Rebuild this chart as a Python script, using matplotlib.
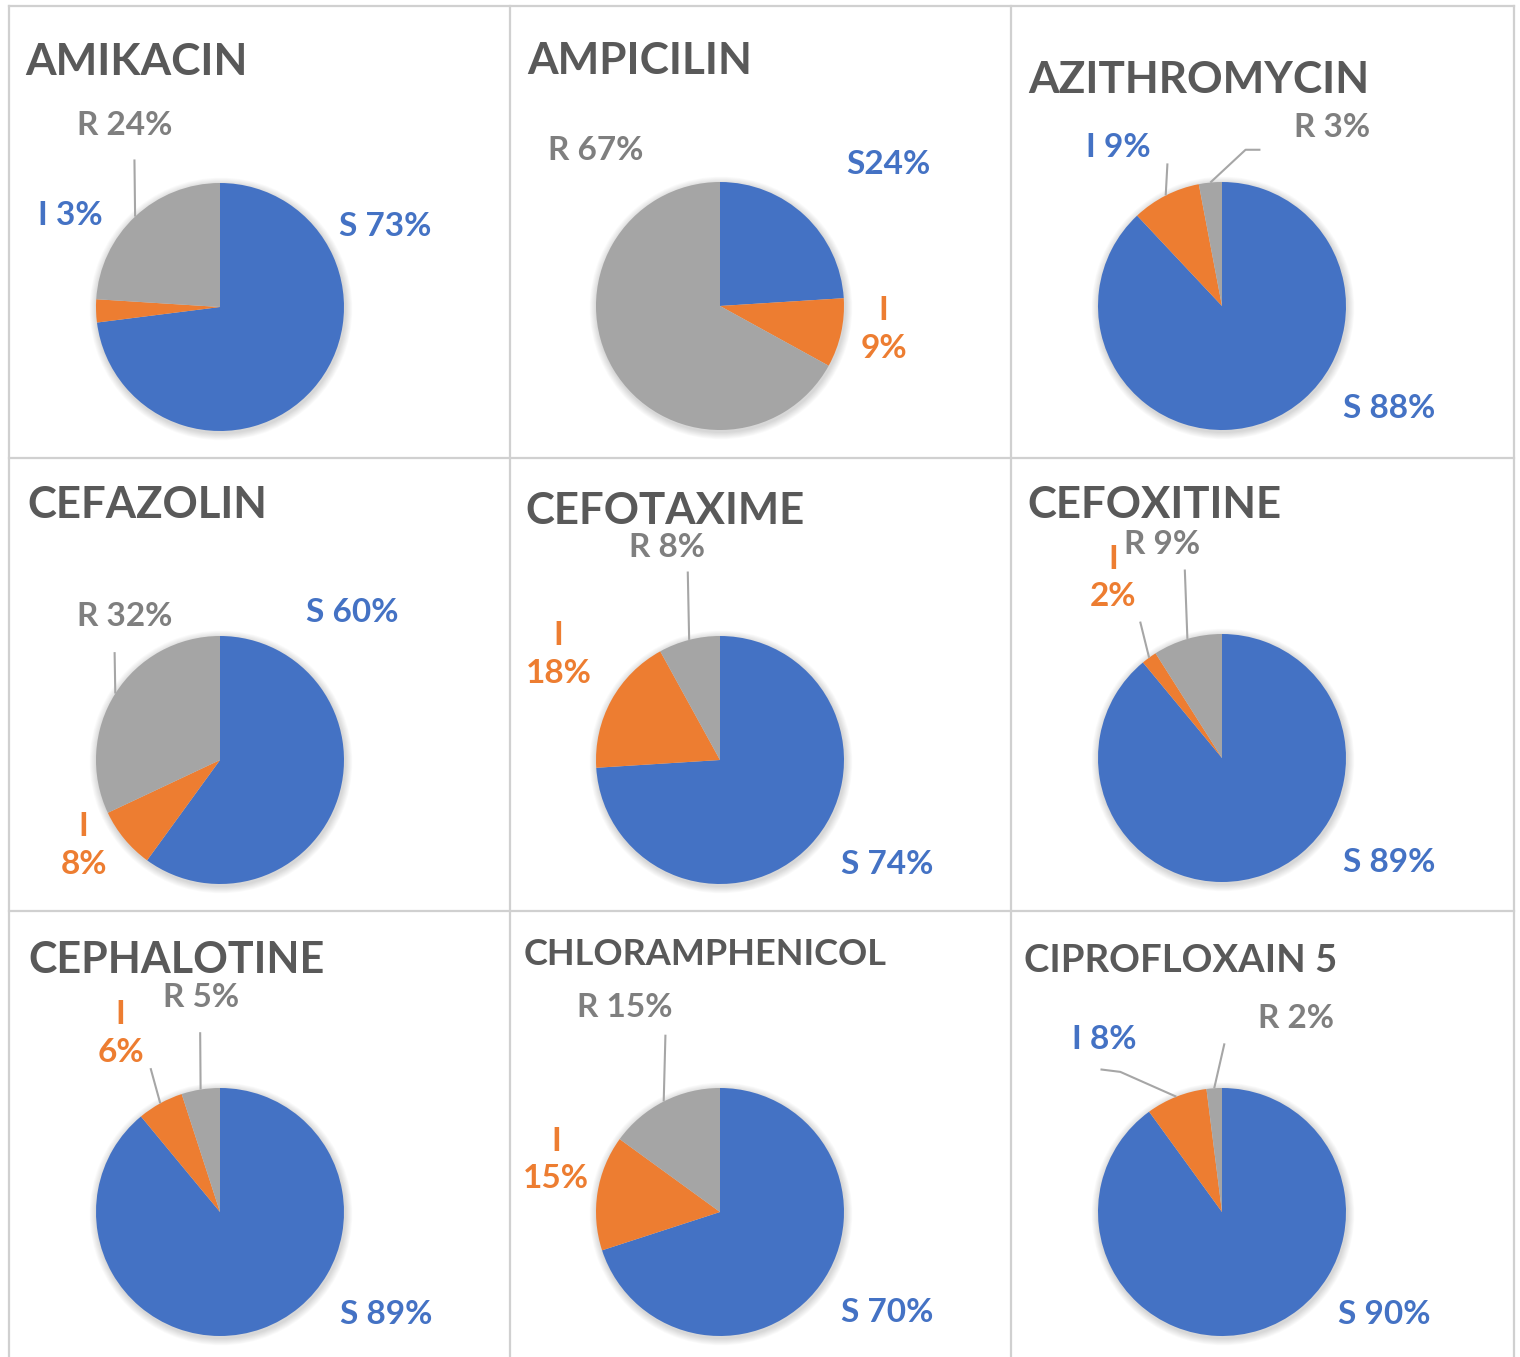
import numpy as np
import matplotlib
matplotlib.use("Agg")
import matplotlib.pyplot as plt
from matplotlib.patches import Circle

W, H = 1520, 1357

drugs = ["AMIKACIN", "AMPICILIN", "AZITHROMYCIN",
         "CEFAZOLIN", "CEFOTAXIME", "CEFOXITINE",
         "CEPHALOTINE", "CHLORAMPHENICOL", "CIPROFLOXAIN 5"]
sens = [73, 24, 88, 60, 74, 89, 89, 70, 90]
inter = [3, 9, 9, 8, 18, 2, 6, 15, 8]
resist = [24, 67, 3, 32, 8, 9, 5, 15, 2]
label_fmt = [
    ["S 73%", "I 3%", "R 24%"],
    ["S24%", "I\n9%", "R 67%"],
    ["S 88%", "I 9%", "R 3%"],
    ["S 60%", "I\n8%", "R 32%"],
    ["S 74%", "I\n18%", "R 8%"],
    ["S 89%", "I\n2%", "R 9%"],
    ["S 89%", "I\n6%", "R 5%"],
    ["S 70%", "I\n15%", "R 15%"],
    ["S 90%", "I 8%", "R 2%"],
]

BLUE, ORANGE, GREY = "#4472C4", "#ED7D31", "#A5A5A5"
TITLE_C, RLAB_C = "#595959", "#7F7F7F"
FONT = "Lato"

# layout (pixels): pie centres, radius, title baselines
R = 124
centres = [(220, 307), (720, 306), (1222, 306),
           (220, 760), (720, 760), (1222, 758),
           (220, 1212), (720, 1212), (1222, 1212)]
titles_at = [(25, 75, 31.8), (527, 74, 31.8), (1028, 93, 31.8),
             (27, 518, 31.5), (525, 524, 31.5), (1027, 518, 31.5),
             (28, 973, 31.0), (524, 965, 26), (1024, 972, 27.5)]
# label centres in radius units (S, I, R)
label_xy = [
    [(1.33, 0.65), (-1.21, 0.74), (-0.77, 1.46)],
    [(1.36, 1.14), (1.32, -0.19), (-1.00, 1.25)],
    [(1.35, -0.83), (-0.84, 1.28), (0.89, 1.44)],
    [(1.07, 1.19), (-1.10, -0.69), (-0.77, 1.16)],
    [(1.35, -0.84), (-1.30, 0.85), (-0.43, 1.71)],
    [(1.35, -0.84), (-0.88, 1.45), (-0.48, 1.72)],
    [(1.34, -0.83), (-0.80, 1.44), (-0.15, 1.73)],
    [(1.35, -0.81), (-1.32, 0.42), (-0.77, 1.65)],
    [(1.31, -0.83), (-0.95, 1.39), (0.60, 1.56)],
]
i_colour = [BLUE, ORANGE, BLUE, ORANGE, ORANGE, ORANGE, ORANGE, ORANGE, BLUE]
# leader lines: panel -> {wedge index: path points (radius units) ending at the wedge edge}
leaders = {
    0: {2: [(-0.69, 1.19)]},
    2: {1: [(-0.44, 1.15)], 2: [(0.31, 1.26), (0.19, 1.26)]},
    3: {2: [(-0.85, 0.87)]},
    4: {2: [(-0.26, 1.52)]},
    5: {1: [(-0.66, 1.10)], 2: [(-0.30, 1.52)]},
    6: {1: [(-0.56, 1.16)], 2: [(-0.16, 1.45)]},
    7: {2: [(-0.44, 1.43)]},
    8: {1: [(-0.98, 1.15), (-0.82, 1.13)], 2: [(0.02, 1.36)]},
}

fig = plt.figure(figsize=(W / 100, H / 100), dpi=100)
ax = fig.add_axes([0, 0, 1, 1])

# panel grid
gc = "#D0D0D0"
for x in [9, 510, 1011, 1514]:
    ax.plot([x, x], [H - 6, 0], color=gc, lw=1.6, zorder=1)
for y in [6, 458, 911]:
    ax.plot([9, 1514], [H - y, H - y], color=gc, lw=1.6, zorder=1)

for k, name in enumerate(drugs):
    cx, cy = centres[k]
    cy = H - cy
    vals = [sens[k], inter[k], resist[k]]

    # soft shadow
    for j in range(8):
        ax.add_patch(Circle((cx + 1, cy - 2), R + 1 + j * 0.9, color="black",
                            alpha=0.018, lw=0, zorder=2))
    ax.pie(vals, colors=[BLUE, ORANGE, GREY], startangle=90, counterclock=False,
           center=(cx, cy), radius=R, frame=True,
           wedgeprops=dict(linewidth=0, zorder=3))

    tx, ty, ts = titles_at[k]
    ax.text(tx, H - ty, name, fontsize=ts, fontweight="bold", color=TITLE_C,
            family=FONT, ha="left", va="baseline", zorder=5)

    # wedge mid angles
    cum = np.cumsum([0] + vals)
    mids = [90 - 3.6 * (cum[i] + cum[i + 1]) / 2 for i in range(3)]

    cols = [BLUE, i_colour[k], RLAB_C]
    for i in range(3):
        lx, ly = label_xy[k][i]
        ax.text(cx + lx * R, cy + ly * R, label_fmt[k][i], fontsize=24,
                fontweight="bold", color=cols[i], family=FONT, ha="center",
                va="center", linespacing=1.35, zorder=5)

    for i, pts in leaders.get(k, {}).items():
        a = np.deg2rad(mids[i])
        path = list(pts) + [(np.cos(a), np.sin(a))]
        xs = [cx + p[0] * R for p in path]
        ys = [cy + p[1] * R for p in path]
        ax.plot(xs, ys, color="#A6A6A6", lw=1.5, zorder=4, solid_capstyle="butt")

ax.set_xlim(0, W)
ax.set_ylim(0, H)
ax.set_aspect("equal")
ax.axis("off")
fig.savefig("out.png", dpi=100, facecolor="white")
